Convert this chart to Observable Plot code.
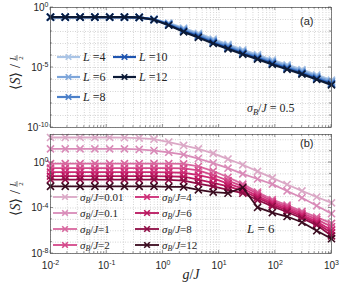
<!DOCTYPE html>
<html><head><meta charset="utf-8">
<script src="https://cdn.jsdelivr.net/npm/d3@7"></script>
<script src="https://cdn.jsdelivr.net/npm/@observablehq/plot@0.6"></script>
<style>
html,body{margin:0;padding:0;background:#fff;}
#chart{position:relative;width:341px;height:287px;overflow:hidden;background:#fff;}
#chart svg{position:absolute;left:0;}
</style></head><body><div id="chart"></div>
<script>
// ---------- data ----------
const g = [0.01, 0.0183, 0.0336, 0.0616, 0.113, 0.207, 0.379, 0.695, 1.27, 2.34, 4.28, 7.85, 14.4, 26.4, 48.3, 88.6, 162, 298, 546, 1000];

// panel (a): sigma_B/J = 0.5, different L
const L_labels = ["4", "6", "8", "10", "12"];
const L_colors = ["#a9c4e6", "#7ea6da", "#4c80c9", "#1f55b0", "#0c1a36"];
const S_L4  = [0.158,0.158,0.158,0.158,0.158,0.158,0.151,0.105,0.0501,0.0191,0.00708,0.00234,8.32e-4,3.02e-4,1.17e-4,4.27e-5,1.66e-5,6.61e-6,2.40e-6,8.91e-7];
const S_L6  = [0.158,0.158,0.158,0.158,0.158,0.158,0.151,0.102,0.0447,0.0158,0.00562,0.00182,6.46e-4,2.29e-4,9.12e-5,3.24e-5,1.29e-5,5.13e-6,1.82e-6,6.61e-7];
const S_L8  = [0.158,0.158,0.158,0.158,0.158,0.158,0.151,0.100,0.0398,0.0126,0.00447,0.00141,5.01e-4,1.78e-4,7.08e-5,2.51e-5,1.00e-5,3.98e-6,1.41e-6,5.01e-7];
const S_L10 = [0.158,0.158,0.158,0.158,0.158,0.158,0.151,0.0977,0.0363,0.0107,0.00372,0.00117,4.17e-4,1.48e-4,5.89e-5,2.09e-5,8.32e-6,3.31e-6,1.17e-6,4.17e-7];
const S_L12 = [0.158,0.158,0.158,0.158,0.158,0.158,0.148,0.0955,0.0331,0.00933,0.00316,0.00100,3.55e-4,1.26e-4,5.01e-5,1.78e-5,7.08e-6,2.82e-6,1.00e-6,3.55e-7];

// panel (b): L = 6, different sigma_B/J
const sigma_labels = ["0.01", "0.1", "1", "2", "4", "6", "8", "12"];
const sigma_colors = ["#dba8c6", "#d98bb8", "#d8679f", "#d4488a", "#cc2a74", "#b8155d", "#8e0d45", "#3a0b1f"];
const S_s001 = [158,158,158,158,158,151,141,112,63.1,31.6,15.8,6.31,2.0,0.631,0.166,0.0447,0.0117,0.00316,9.33e-4,2.82e-4];
const S_s01  = [15.8,15.8,15.8,15.8,15.8,15.8,14.1,11.2,7.94,5.01,2.24,0.891,0.316,0.1,0.0355,0.0126,0.00316,7.94e-4,1.58e-4,3.16e-5];
const S_s1   = [0.794,0.794,0.794,0.794,0.794,0.794,0.794,0.794,0.794,0.759,0.447,0.178,0.0501,0.0126,0.00251,5.62e-4,1.78e-4,5.01e-5,1.58e-5,4.47e-6];
const S_s2   = [0.316,0.316,0.316,0.316,0.316,0.316,0.316,0.316,0.316,0.302,0.2,0.0794,0.0251,0.00794,0.00178,3.98e-4,1.26e-4,3.55e-5,1.0e-5,2.24e-6];
const S_s4   = [0.141,0.141,0.141,0.141,0.141,0.141,0.141,0.141,0.135,0.126,0.0794,0.0398,0.0141,0.00501,0.00112,2.82e-4,8.91e-5,2.51e-5,6.31e-6,1.12e-6];
const S_s6   = [0.0631,0.0631,0.0631,0.0631,0.0631,0.0631,0.0631,0.0631,0.0603,0.0562,0.0316,0.0158,0.00794,0.00316,7.94e-4,2.0e-4,6.31e-5,1.78e-5,4.47e-6,6.31e-7];
const S_s8   = [0.0316,0.0316,0.0316,0.0316,0.0316,0.0316,0.0316,0.0316,0.0295,0.0251,0.0141,0.00794,0.00398,0.002,5.01e-4,1.41e-4,4.47e-5,1.26e-5,3.16e-6,3.55e-7];
const S_s12  = [0.00794,0.00794,0.00794,0.00794,0.00794,0.00794,0.00794,0.00794,0.00708,0.00708,0.00398,0.00251,0.002,0.00631,1.12e-4,3.98e-5,1.78e-5,5.62e-6,1.0e-6,2.0e-7];

// axes ticks
const xTickLabels = [1e-2, 1e-1, 1, 10, 100, 1000];
const xMinor = [2,3,4,5,6,7,8,9].flatMap(m => [1e-2,1e-1,1,10,100].map(d => m*d));
const yTicksA = [1, 1e-5, 1e-10];
const yDecadesA = [1,1e-1,1e-2,1e-3,1e-4,1e-5,1e-6,1e-7,1e-8,1e-9,1e-10];
const yTicksB = [1, 1e-4, 1e-8];
const yDecadesB = [100,10,1,1e-1,1e-2,1e-3,1e-4,1e-5,1e-6,1e-7,1e-8];

// ---------- rendering ----------
const serif = "'Liberation Serif','DejaVu Serif',serif";
const sans = "'Liberation Sans',Arial,Helvetica,sans-serif";
const ink = "#262626";

function tableOf(series) {
  return series.map(s => g.map((gv, i) => ({g: gv, S: s[i]})));
}

function panel({height, marginTop, marginBottom, yDomain, yTicks, yDecades, series, colors, lineWidth, showX}) {
  const tables = tableOf(series);
  const marks = [
    Plot.gridX([...xTickLabels, ...xMinor], {stroke: "#b8b8b8", strokeOpacity: 1, strokeWidth: 0.6, strokeDasharray: "1,1.5"}),
    Plot.gridY(yDecades, {stroke: "#b8b8b8", strokeOpacity: 1, strokeWidth: 0.6, strokeDasharray: "1,1.5"})
  ];
  tables.forEach((t, i) => {
    marks.push(Plot.line(t, {x: "g", y: "S", stroke: colors[i], strokeWidth: lineWidth}));
    marks.push(Plot.dot(t, {x: "g", y: "S", stroke: colors[i], symbol: "times", r: 3.3, strokeWidth: 1.6}));
  });
  marks.push(Plot.frame({stroke: "#4d4d4d", strokeWidth: 0.7}));
  marks.push(Plot.axisY(yTicks, {anchor: "left", tickSize: 0, tickPadding: 2, label: null,
    tickFormat: d => "10^" + Math.round(Math.log10(d))}));
  if (showX) marks.push(Plot.axisX(xTickLabels, {anchor: "bottom", tickSize: 0, tickPadding: 8, label: null,
    tickFormat: d => "10^" + Math.round(Math.log10(d))}));
  else marks.push(Plot.axisX([], {anchor: "bottom", label: null}));
  return Plot.plot({
    width: 341, height, marginTop, marginBottom, marginLeft: 50, marginRight: 10,
    style: {fontFamily: sans, fontSize: "10px", color: ink, background: "transparent", overflow: "visible"},
    x: {type: "log", domain: [1e-2, 1e3]},
    y: {type: "log", domain: yDomain},
    marks
  });
}

function superscripts(svg) {
  svg.querySelectorAll('g[aria-label$="tick label"] text').forEach(t => {
    const m = /^10\^(.+)$/.exec(t.textContent);
    if (!m) return;
    t.textContent = "10";
    const ts = document.createElementNS("http://www.w3.org/2000/svg", "tspan");
    ts.setAttribute("dy", "-0.5em");
    ts.setAttribute("font-size", "7px");
    ts.textContent = m[1];
    t.appendChild(ts);
  });
}

function ticks(svg, chart, yMajor, yMinor) {
  const x = chart.scale("x"), y = chart.scale("y");
  const [yb, yt] = y.range;
  const [xl, xr] = x.range;
  const s = d3.select(svg).append("g").attr("stroke", "#4d4d4d").attr("stroke-width", 0.6);
  xTickLabels.forEach(v => { const px = x.apply(v);
    s.append("line").attr("x1", px).attr("x2", px).attr("y1", yb).attr("y2", yb - 3);
    s.append("line").attr("x1", px).attr("x2", px).attr("y1", yt).attr("y2", yt + 3); });
  xMinor.forEach(v => { const px = x.apply(v);
    s.append("line").attr("x1", px).attr("x2", px).attr("y1", yb).attr("y2", yb - 1.8);
    s.append("line").attr("x1", px).attr("x2", px).attr("y1", yt).attr("y2", yt + 1.8); });
  yMinor.forEach(v => { const py = y.apply(v); const len = yMajor.includes(v) ? 3 : 2;
    s.append("line").attr("x1", xl).attr("x2", xl + len).attr("y1", py).attr("y2", py);
    s.append("line").attr("x1", xr).attr("x2", xr - len).attr("y1", py).attr("y2", py); });
}

function yLabel(svg, cx, cy) {
  const gg = d3.select(svg).append("g").attr("transform", `translate(${cx},${cy}) rotate(-90)`)
    .attr("font-family", serif).attr("fill", ink);
  const t = gg.append("text").attr("x", -10).attr("y", 0).attr("text-anchor", "middle").attr("font-size", 14);
  t.append("tspan").text("\u27E8");
  t.append("tspan").attr("font-style", "italic").text("S");
  t.append("tspan").text("\u27E9");
  gg.append("text").attr("x", 5).attr("y", 0).attr("text-anchor", "middle").attr("font-size", 14).text("/");
  gg.append("text").attr("x", 13).attr("y", -4.5).attr("text-anchor", "middle").attr("font-size", 8).attr("font-style", "italic").text("L");
  gg.append("line").attr("x1", 10).attr("x2", 16).attr("y1", -3).attr("y2", -3).attr("stroke", ink).attr("stroke-width", 0.6);
  gg.append("text").attr("x", 13).attr("y", 2.8).attr("text-anchor", "middle").attr("font-size", 7).text("2");
}

function sigmaText(sel, x, y, size, rest) {
  const t = sel.append("text").attr("x", x).attr("y", y).attr("text-anchor", "start").attr("font-family", serif).attr("font-size", size).attr("fill", ink);
  t.append("tspan").attr("font-style", "italic").text("\u03C3");
  t.append("tspan").attr("font-style", "italic").attr("font-size", size * 0.7).attr("dy", size * 0.25).text("B");
  t.append("tspan").attr("dy", -size * 0.25).text("/");
  t.append("tspan").attr("font-style", "italic").text("J");
  t.append("tspan").text(rest);
  return t;
}

function legendMark(sel, x1, x2, y, color, lw) {
  sel.append("line").attr("x1", x1).attr("x2", x2).attr("y1", y).attr("y2", y).attr("stroke", color).attr("stroke-width", lw);
  const cx = (x1 + x2) / 2, r = 2.8;
  sel.append("path").attr("d", `M${cx - r},${y - r}L${cx + r},${y + r}M${cx - r},${y + r}L${cx + r},${y - r}`)
    .attr("stroke", color).attr("stroke-width", 1.6).attr("fill", "none");
}

const root = document.getElementById("chart");

// Panel (a)
const chartA = panel({height: 129, marginTop: 7, marginBottom: 2, yDomain: [1e-10, 1], yTicks: yTicksA, yDecades: yDecadesA,
  series: [S_L4, S_L6, S_L8, S_L10, S_L12], colors: L_colors, lineWidth: 2.2, showX: false});
chartA.style.top = "0px";
root.appendChild(chartA);
superscripts(chartA);
ticks(chartA, chartA, yTicksA, yDecadesA);
yLabel(chartA, 20, 71);
{
  const s = d3.select(chartA);
  s.append("text").attr("x", 300).attr("y", 25).attr("text-anchor", "start").attr("font-family", sans).attr("font-size", 11).attr("fill", ink).text("(a)");
  sigmaText(s, 247, 112, 12, " = 0.5");
  const lg = s.append("g").attr("text-anchor", "start");
  const rows = [57, 77, 97];
  L_labels.forEach((lab, i) => {
    const col = i < 3 ? 0 : 1, row = i < 3 ? i : i - 3;
    const x1 = col === 0 ? 57 : 113;
    legendMark(lg, x1, x1 + 23, rows[row], L_colors[i], 2.2);
    const t = lg.append("text").attr("x", x1 + 26).attr("y", rows[row] + 4).attr("text-anchor", "start").attr("font-family", serif).attr("font-size", 12).attr("fill", ink);
    t.append("tspan").attr("font-style", "italic").text("L");
    t.append("tspan").text(" =" + lab);
  });
}

// Panel (b)
const chartB = panel({height: 158, marginTop: 5, marginBottom: 34, yDomain: [1e-8, 290], yTicks: yTicksB, yDecades: yDecadesB,
  series: [S_s001, S_s01, S_s1, S_s2, S_s4, S_s6, S_s8, S_s12], colors: sigma_colors, lineWidth: 1.8, showX: true});
chartB.style.top = "129px";
root.appendChild(chartB);
superscripts(chartB);
ticks(chartB, chartB, yTicksB, yDecadesB);
yLabel(chartB, 20, 68);
{
  const s = d3.select(chartB);
  s.append("text").attr("x", 300).attr("y", 18).attr("text-anchor", "start").attr("font-family", sans).attr("font-size", 11).attr("fill", ink).text("(b)");
  const lt = s.append("text").attr("x", 247).attr("y", 104).attr("text-anchor", "start").attr("font-family", serif).attr("font-size", 13).attr("fill", ink);
  lt.append("tspan").attr("font-style", "italic").text("L");
  lt.append("tspan").text(" = 6");
  const xl = s.append("text").attr("x", 191).attr("y", 150).attr("text-anchor", "middle").attr("font-family", serif).attr("font-size", 14).attr("fill", ink);
  xl.append("tspan").attr("font-style", "italic").text("g");
  xl.append("tspan").text("/");
  xl.append("tspan").attr("font-style", "italic").text("J");
  const lg = s.append("g").attr("text-anchor", "start");
  const rows = [68, 84, 100, 116];
  sigma_labels.forEach((lab, i) => {
    const col = i < 4 ? 0 : 1, row = i % 4;
    const x1 = col === 0 ? 53 : 135;
    legendMark(lg, x1, x1 + 24, rows[row], sigma_colors[i], 1.8);
    sigmaText(lg, x1 + 27, rows[row] + 3.5, 11, "=" + lab);
  });
}
</script>
</body></html>
